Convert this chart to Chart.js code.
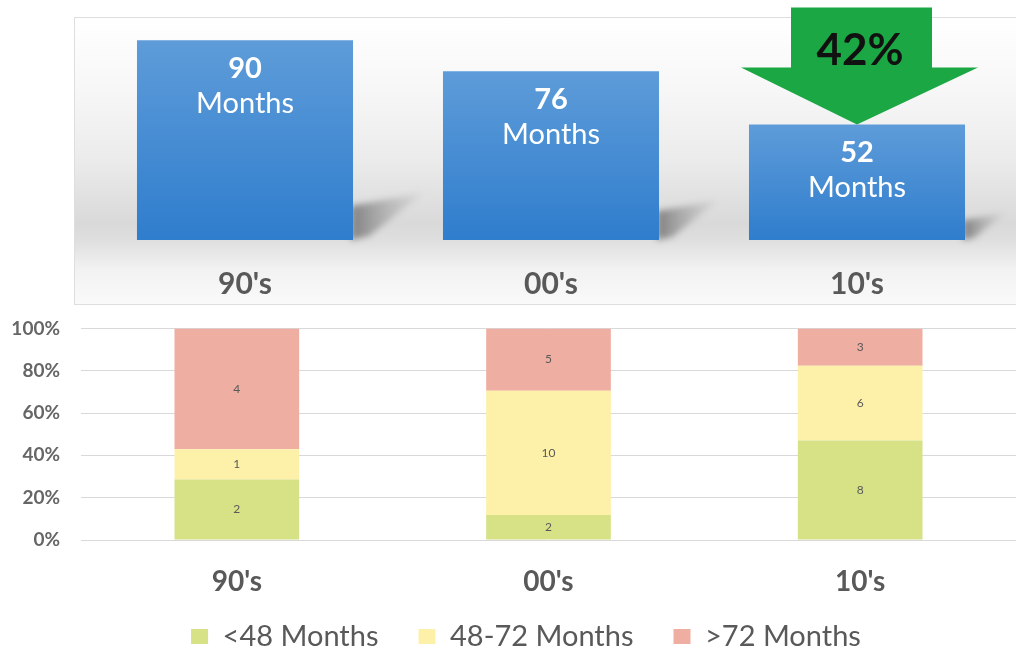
<!DOCTYPE html>
<html>
<head>
<meta charset="utf-8">
<script src="https://cdn.jsdelivr.net/npm/chart.js@4.4.1/dist/chart.umd.min.js"></script>
<style>
  body { margin: 0; background: #fff; width: 1016px; height: 649px; overflow: hidden; position: relative; font-family: Lato, sans-serif; }
  #panel {
    position: absolute; left: 74px; top: 17px; width: 990px; height: 286px;
    border: 1px solid #dedede;
    background: linear-gradient(to bottom, #ffffff 0%, #f7f7f7 25%, #ebebeb 50%, #d9d9d9 72%, #dfdfdf 78%, #f2f2f2 88%, #fafafa 100%);
  }
  #topWrap { position: absolute; left: 0; top: 0; width: 1016px; height: 310px; }
  #bottomWrap { position: absolute; left: 0; top: 296px; width: 1016px; height: 382px; }
</style>
</head>
<body>
<div id="panel"></div>
<div id="topWrap"><canvas id="avgChart"></canvas></div>
<div id="bottomWrap"><canvas id="mixChart"></canvas></div>
<script>
const decades = ["90's", "00's", "10's"];
const avgMonths = [90, 76, 52];

const bandLabels = ['<48 Months', '48-72 Months', '>72 Months'];
const under48 = [2, 2, 8];
const from48to72 = [1, 10, 6];
const over72 = [4, 5, 3];
const bandColors = ['#d6e285', '#fdf1a9', '#efaea2'];

const textGray = '#595959';

// totals per decade, used to turn counts into shares
const totals = decades.map((d, i) => under48[i] + from48to72[i] + over72[i]);
function share(arr) {
  return arr.map((v, i) => v / totals[i] * 100);
}

// blue bars fade from light at the top to deeper blue at the base
function barGradient(ctx) {
  const chart = ctx.chart;
  const area = chart.chartArea;
  if (!area) return '#4a8ed4';
  const top = chart.scales.y.getPixelForValue(ctx.raw);
  const g = chart.ctx.createLinearGradient(0, top, 0, area.bottom);
  g.addColorStop(0, '#5e9cd9');
  g.addColorStop(1, '#2f7dcd');
  return g;
}

// slanted shadow behind each blue bar
const barShadow = {
  id: 'barShadow',
  beforeDatasetsDraw(chart) {
    const c = chart.ctx;
    chart.getDatasetMeta(0).data.forEach(bar => {
      const r = bar.x + bar.width / 2;
      const b = bar.base;
      const h = b - bar.y;
      const g = c.createLinearGradient(r, 0, r + h * 0.35, 0);
      g.addColorStop(0, 'rgba(110,110,110,0.8)');
      g.addColorStop(1, 'rgba(170,170,170,0.15)');
      c.save();
      c.filter = 'blur(3px)';
      c.fillStyle = g;
      c.beginPath();
      c.moveTo(r - 2, b - h * 0.17);
      c.lineTo(r + h * 0.35, b - h * 0.235);
      c.lineTo(r + h * 0.08, b - h * 0.02);
      c.lineTo(r - 2, b);
      c.closePath();
      c.fill();
      c.restore();
    });
  }
};

// value and unit written inside each blue bar, plus the drop arrow
const barText = {
  id: 'barText',
  afterDatasetsDraw(chart) {
    const c = chart.ctx;
    const bars = chart.getDatasetMeta(0).data;
    c.save();
    c.fillStyle = '#ffffff';
    c.textAlign = 'center';
    c.textBaseline = 'middle';
    bars.forEach((bar, i) => {
      c.font = 'bold 29px Lato';
      c.fillText(avgMonths[i], bar.x, bar.y + 28);
      c.font = '29px Lato';
      c.fillText('Months', bar.x, bar.y + 63);
    });

    // arrow pointing down onto the latest decade
    const last = bars[bars.length - 1];
    const tipX = last.x, tipY = last.y;
    c.fillStyle = '#1ba743';
    c.beginPath();
    c.moveTo(tipX, tipY);
    c.lineTo(tipX - 116, tipY - 57);
    c.lineTo(tipX - 66, tipY - 57);
    c.lineTo(tipX - 66, tipY - 117);
    c.lineTo(tipX + 75, tipY - 117);
    c.lineTo(tipX + 75, tipY - 57);
    c.lineTo(tipX + 121, tipY - 57);
    c.closePath();
    c.fill();

    const drop = Math.round((avgMonths[0] - avgMonths[avgMonths.length - 1]) / avgMonths[0] * 100);
    c.fillStyle = '#111111';
    c.font = 'bold 44px Lato';
    c.fillText(drop + '%', tipX + 3, tipY - 74);
    c.restore();
  }
};

new Chart(document.getElementById('avgChart'), {
  type: 'bar',
  data: {
    labels: decades,
    datasets: [{
      data: avgMonths,
      backgroundColor: barGradient,
      borderWidth: 0,
      categoryPercentage: 1,
      barPercentage: 0.706
    }]
  },
  options: {
    responsive: true,
    maintainAspectRatio: false,
    animation: false,
    layout: { padding: { top: 18, left: 92, right: 6, bottom: 0 } },
    plugins: { legend: { display: false }, tooltip: { enabled: false } },
    scales: {
      x: {
        grid: { display: false },
        border: { display: false },
        ticks: { color: textGray, padding: 18, font: { family: 'Lato', size: 30, weight: 'bold' } },
        afterFit(scale) { scale.height = 70; }
      },
      y: { display: false, min: 0, max: 100 }
    }
  },
  plugins: [barShadow, barText]
});

// counts written in the middle of each stacked segment
const countLabels = {
  id: 'countLabels',
  afterDatasetsDraw(chart) {
    const c = chart.ctx;
    const counts = [under48, from48to72, over72];
    c.save();
    c.fillStyle = textGray;
    c.font = '12px Lato';
    c.textAlign = 'center';
    c.textBaseline = 'middle';
    chart.data.datasets.forEach((ds, di) => {
      chart.getDatasetMeta(di).data.forEach((el, i) => {
        c.fillText(counts[di][i], el.x, (el.y + el.base) / 2);
      });
    });
    c.restore();
  }
};

// the wide label padding spaces the legend items apart; pull the row back up
// and a little to the right
const legendLift = {
  id: 'legendLift',
  afterLayout(chart) {
    const lg = chart.legend;
    lg.top -= 17;
    lg.bottom -= 17;
    lg.left += 18;
    lg.right += 18;
  }
};

new Chart(document.getElementById('mixChart'), {
  type: 'bar',
  data: {
    labels: decades,
    datasets: [
      { label: bandLabels[0], data: share(under48), backgroundColor: bandColors[0] },
      { label: bandLabels[1], data: share(from48to72), backgroundColor: bandColors[1] },
      { label: bandLabels[2], data: share(over72), backgroundColor: bandColors[2] }
    ].map(ds => Object.assign(ds, { borderWidth: 0, categoryPercentage: 1, barPercentage: 0.4 }))
  },
  options: {
    responsive: true,
    maintainAspectRatio: false,
    animation: false,
    layout: { padding: { top: 3, left: 0, right: 0, bottom: 0 } },
    plugins: {
      tooltip: { enabled: false },
      legend: {
        position: 'bottom',
        labels: {
          color: textGray,
          boxWidth: 17,
          boxHeight: 15,
          padding: 40,
          font: { family: 'Lato', size: 29 }
        }
      }
    },
    scales: {
      x: {
        stacked: true,
        grid: { display: false },
        border: { display: false },
        ticks: { color: textGray, padding: 17, font: { family: 'Lato', size: 28, weight: 'bold' } },
        afterFit(scale) { scale.height = 59; }
      },
      y: {
        stacked: true,
        min: 0,
        max: 100,
        grid: { color: '#d9d9d9', drawTicks: false },
        border: { display: false },
        ticks: {
          stepSize: 20,
          padding: 21,
          color: '#666666',
          font: { family: 'Lato', size: 19, weight: 'bold' },
          callback: v => v + '%'
        },
        afterFit(scale) { scale.width = 81; }
      }
    }
  },
  plugins: [countLabels, legendLift]
});
</script>
</body>
</html>
